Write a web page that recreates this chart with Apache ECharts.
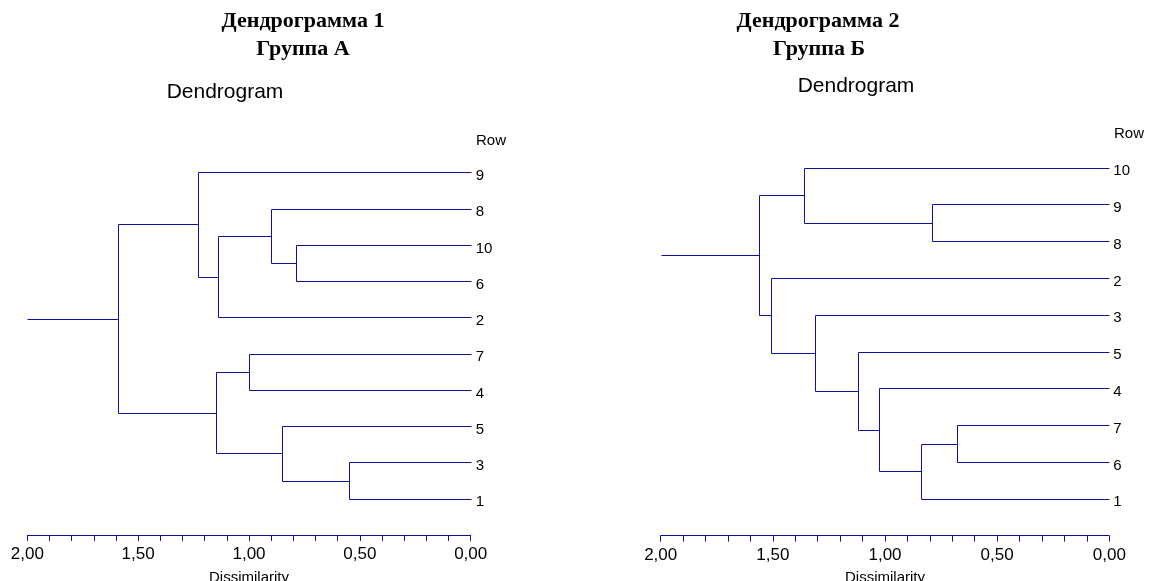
<!DOCTYPE html>
<html>
<head>
<meta charset="utf-8">
<script src="https://cdn.jsdelivr.net/npm/echarts@6/dist/echarts.min.js"></script>
<style>
html,body{margin:0;padding:0;background:#fff;}
#chart{width:1152px;height:581px;}
</style>
</head>
<body>
<div id="chart"></div>
<script>
// ---------- data ----------
const leftLeaves = ['9','8','10','6','2','7','4','5','3','1'];
const leftPairs = [['10','6'],['8','m0'],['m1','2'],['9','m2'],['7','4'],['3','1'],['5','m5'],['m4','m6'],['m3','m7']];
const leftHeights = [0.79, 0.90, 1.14, 1.23, 1.00, 0.55, 0.85, 1.15, 1.59];

const rightLeaves = ['10','9','8','2','3','5','4','7','6','1'];
const rightPairs = [['9','8'],['10','m0'],['7','6'],['m2','1'],['4','m3'],['5','m4'],['3','m5'],['2','m6'],['m1','m7']];
const rightHeights = [0.79, 1.36, 0.68, 0.84, 1.025, 1.12, 1.31, 1.51, 1.56];

const axisTicks = [0, 0.5, 1.0, 1.5, 2.0];
const axisMax = 2.0;
const titles1 = ['Дендрограмма 1', 'Группа А'];
const titles2 = ['Дендрограмма 2', 'Группа Б'];
const subTitle = 'Dendrogram';
const rowLabel = 'Row';
const axisName = 'Dissimilarity';

// ---------- build links ----------
function buildLinks(leaves, pairs, heights) {
  const nodes = {};
  leaves.forEach((l, i) => { nodes[l] = {x: 0, y: i}; });
  const links = [];
  pairs.forEach((p, i) => {
    const a = nodes[p[0]], b = nodes[p[1]];
    const h = heights[i];
    nodes['m' + i] = {x: h, y: (a.y + b.y) / 2};
    links.push([a.x, a.y, b.x, b.y, h, 0]);
  });
  const root = nodes['m' + (pairs.length - 1)];
  links.push([root.x, root.y, root.x, root.y, axisMax, 1]);
  return links;
}
const leftLinks = buildLinks(leftLeaves, leftPairs, leftHeights);
const rightLinks = buildLinks(rightLeaves, rightPairs, rightHeights);

const LINE = '#10109a';
const FONT = 'Liberation Sans, Arial, sans-serif';
const SERIF = 'Liberation Serif, Times New Roman, serif';

function px(v){ return Math.round(v) + 0.5; }

function renderItem(params, api) {
  const x1 = api.value(0), y1 = api.value(1), x2 = api.value(2), y2 = api.value(3), h = api.value(4), stub = api.value(5);
  let pts;
  if (stub === 1) {
    pts = [api.coord([x1, y1]), api.coord([h, y1])];
  } else {
    pts = [api.coord([x1, y1]), api.coord([h, y1]), api.coord([h, y2]), api.coord([x2, y2])];
  }
  pts = pts.map(p => [px(p[0]), px(p[1])]);
  return {
    type: 'polyline',
    shape: {points: pts},
    style: {stroke: LINE, lineWidth: 1, fill: null}
  };
}

function xAxisCfg(gridIndex, offset) {
  return {
    type: 'value', gridIndex, inverse: true, min: 0, max: axisMax, interval: 0.5,
    position: 'bottom', offset,
    axisLine: {show: true, onZero: false, lineStyle: {color: LINE, width: 1}},
    axisTick: {show: true, length: 6, lineStyle: {color: LINE, width: 1}},
    minorTick: {show: true, splitNumber: 5, length: 6, lineStyle: {color: LINE, width: 1}},
    splitLine: {show: false},
    minorSplitLine: {show: false},
    axisLabel: {
      margin: 11, color: '#000', fontSize: 17, fontFamily: FONT,
      formatter: v => axisTicks.indexOf(v) >= 0 ? v.toFixed(2).replace('.', ',') : ''
    },
    name: axisName, nameLocation: 'middle', nameGap: 35,
    nameTextStyle: {color: '#000', fontSize: 15, fontFamily: FONT}
  };
}

function catAxis(gridIndex, leaves, margin) {
  return {
    type: 'category', gridIndex, position: 'right', inverse: true, data: leaves,
    axisLine: {show: false, onZero: false}, axisTick: {show: false}, splitLine: {show: false},
    axisLabel: {margin, color: '#000', fontSize: 15, fontFamily: FONT, verticalAlign: 'top', lineHeight: 7}
  };
}
function valAxis(gridIndex) {
  return {type: 'value', gridIndex, show: false, inverse: true, min: -0.5, max: 9.5,
          axisLine: {onZero: false}, splitLine: {show: false}};
}

function text(x, y, str, size, family, weight, align) {
  return {
    type: 'text', x, y,
    style: {text: str, fill: '#000', font: (weight || 'normal') + ' ' + size + 'px ' + family,
            textAlign: align || 'center', textVerticalAlign: 'middle'}
  };
}

const chart = echarts.init(document.getElementById('chart'), null, {renderer: 'canvas'});
chart.setOption({
  backgroundColor: '#fff',
  animation: false,
  grid: [
    {left: 27.3, top: 154.2, width: 443.4, height: 362.7, containLabel: false, outerBoundsMode: 'none'},
    {left: 660.7, top: 149.3, width: 448.6, height: 367.8, containLabel: false, outerBoundsMode: 'none'}
  ],
  xAxis: [xAxisCfg(0, 18), xAxisCfg(1, 18.5)],
  yAxis: [catAxis(0, leftLeaves, 5), valAxis(0), catAxis(1, rightLeaves, 4), valAxis(1)],
  series: [
    {type: 'custom', xAxisIndex: 0, yAxisIndex: 1, data: leftLinks, renderItem, clip: false,
     encode: {x: [0, 2, 4], y: [1, 3]}, silent: true},
    {type: 'custom', xAxisIndex: 1, yAxisIndex: 3, data: rightLinks, renderItem, clip: false,
     encode: {x: [0, 2, 4], y: [1, 3]}, silent: true}
  ],
  graphic: [
    text(303, 21, titles1[0], 22, SERIF, 'bold'),
    text(303, 49.5, titles1[1], 22, SERIF, 'bold'),
    text(818, 21, titles2[0], 22, SERIF, 'bold'),
    text(819, 49.5, titles2[1], 22, SERIF, 'bold'),
    text(225, 92.5, subTitle, 21, FONT),
    text(856, 86.5, subTitle, 21, FONT),
    text(476, 141, rowLabel, 15, FONT, 'normal', 'left'),
    text(1114, 134, rowLabel, 15, FONT, 'normal', 'left')
  ]
});
</script>
</body>
</html>
